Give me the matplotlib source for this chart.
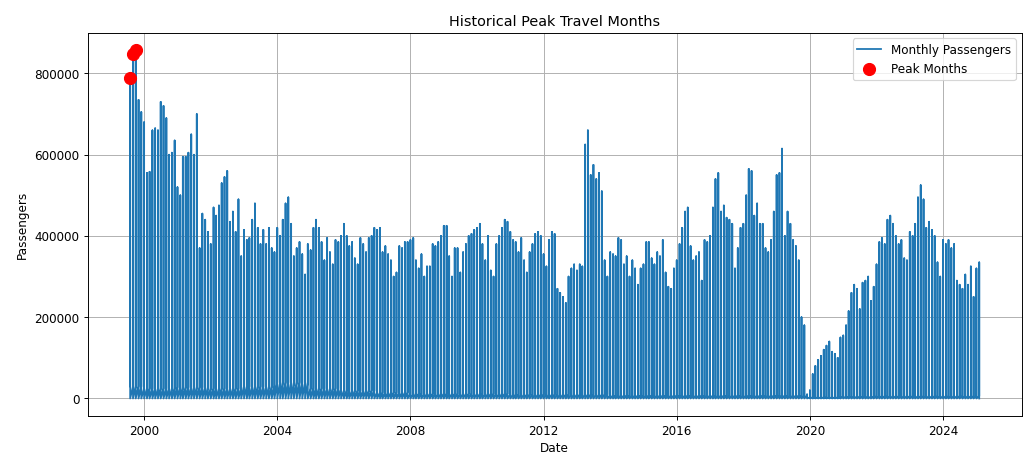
import matplotlib.pyplot as plt
import pandas as pd

# monthly peak passenger counts (Aug 1999 - Feb 2025)
highs = {
    1999: [790000, 848000, 858000, 735000, 705000],
    2000: [680000, 555000, 558000, 660000, 665000, 660000, 730000, 720000, 690000, 600000, 605000, 635000],
    2001: [520000, 500000, 595000, 595000, 605000, 650000, 600000, 700000, 370000, 455000, 440000, 410000],
    2002: [380000, 470000, 450000, 475000, 530000, 545000, 560000, 435000, 460000, 410000, 490000, 350000],
    2003: [415000, 390000, 395000, 440000, 480000, 420000, 380000, 415000, 380000, 420000, 370000, 360000],
    2004: [420000, 400000, 440000, 480000, 495000, 430000, 350000, 370000, 385000, 355000, 305000, 380000],
    2005: [365000, 420000, 440000, 420000, 385000, 340000, 395000, 360000, 330000, 390000, 385000, 400000],
    2006: [430000, 400000, 375000, 385000, 345000, 330000, 395000, 380000, 360000, 395000, 400000, 420000],
    2007: [415000, 420000, 360000, 375000, 355000, 340000, 300000, 310000, 375000, 370000, 385000, 385000],
    2008: [390000, 395000, 340000, 320000, 355000, 300000, 325000, 325000, 380000, 375000, 385000, 400000],
    2009: [425000, 425000, 350000, 300000, 370000, 370000, 310000, 360000, 380000, 400000, 405000, 415000],
    2010: [420000, 430000, 380000, 340000, 400000, 315000, 300000, 380000, 400000, 420000, 440000, 435000],
    2011: [410000, 390000, 385000, 360000, 395000, 340000, 310000, 360000, 380000, 405000, 410000, 400000],
    2012: [355000, 325000, 390000, 410000, 405000, 270000, 260000, 250000, 235000, 300000, 320000, 330000],
    2013: [315000, 330000, 325000, 625000, 660000, 550000, 575000, 540000, 555000, 510000, 340000, 300000],
    2014: [360000, 355000, 350000, 395000, 390000, 330000, 350000, 300000, 340000, 320000, 280000, 320000],
    2015: [330000, 385000, 385000, 345000, 330000, 360000, 350000, 390000, 310000, 275000, 270000, 320000],
    2016: [340000, 380000, 420000, 460000, 470000, 375000, 340000, 350000, 360000, 290000, 390000, 385000],
    2017: [400000, 470000, 540000, 555000, 460000, 475000, 445000, 440000, 430000, 320000, 370000, 420000],
    2018: [430000, 500000, 565000, 560000, 450000, 480000, 430000, 430000, 370000, 360000, 390000, 460000],
    2019: [550000, 555000, 615000, 400000, 460000, 430000, 390000, 375000, 340000, 200000, 180000, 10000],
    2020: [20000, 60000, 80000, 95000, 105000, 120000, 130000, 140000, 115000, 110000, 100000, 150000],
    2021: [155000, 180000, 215000, 260000, 280000, 270000, 220000, 285000, 290000, 300000, 240000, 275000],
    2022: [330000, 385000, 395000, 380000, 440000, 450000, 430000, 400000, 380000, 390000, 345000, 340000],
    2023: [410000, 400000, 430000, 495000, 525000, 490000, 420000, 435000, 415000, 400000, 335000, 300000],
    2024: [390000, 380000, 390000, 370000, 380000, 290000, 280000, 270000, 305000, 280000, 325000, 250000],
    2025: [320000, 335000],
}
# typical small counts recorded in the same month, per year
lows = {1999: 30000, 2000: 25000, 2001: 28000, 2002: 25000, 2003: 30000, 2004: 40000,
        2005: 25000, 2006: 20000, 2007: 15000, 2008: 12000, 2009: 12000, 2010: 12000,
        2011: 10000, 2012: 10000, 2013: 10000, 2014: 8000, 2015: 8000, 2016: 8000,
        2017: 8000, 2018: 8000, 2019: 8000, 2020: 3000, 2021: 5000, 2022: 6000,
        2023: 6000, 2024: 6000, 2025: 6000}

rows = []
for year, vals in highs.items():
    start = 8 if year == 1999 else 1
    for i, v in enumerate(vals):
        d = pd.Timestamp(year=year, month=start + i, day=1)
        rows.append((d, lows[year]))
        rows.append((d, v))
        rows.append((d, 0))
data = pd.DataFrame(rows, columns=['Date', 'Passengers'])
peaks = data.nlargest(3, 'Passengers')

fig = plt.figure(figsize=(12, 5.47), dpi=86)
plt.plot(data['Date'], data['Passengers'], label='Monthly Passengers')
plt.scatter(peaks['Date'], peaks['Passengers'], color='red', s=100, label='Peak Months', zorder=3)
plt.title('Historical Peak Travel Months')
plt.xlabel('Date')
plt.ylabel('Passengers')
plt.legend()
plt.grid(True)
plt.subplots_adjust(left=0.085, right=0.99, top=0.93, bottom=0.115)
plt.savefig('out.png')
